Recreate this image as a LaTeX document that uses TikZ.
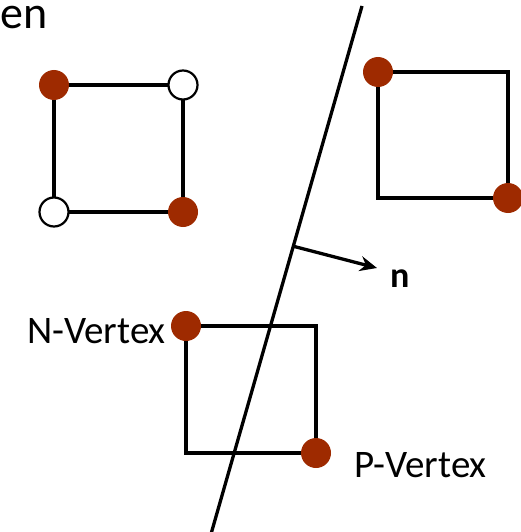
\documentclass[tikz,border=0pt]{standalone}
\usepackage{fontspec}
\setmainfont{Carlito}
\usetikzlibrary{arrows.meta,calc}
\definecolor{vred}{RGB}{158,42,0}
\tikzset{
  edge/.style={line width=3.3pt, line join=miter},
  hot/.style={circle, fill=vred, minimum size=30pt, inner sep=0pt},
  cold/.style={circle, draw=black, line width=2.2pt, fill=white, minimum size=29pt, inner sep=0pt},
  lbl/.style={font=\fontsize{39}{42}\selectfont, inner sep=0pt},
}
\begin{document}
\begin{tikzpicture}[x=1pt,y=-1pt]
  \useasboundingbox (0,0) rectangle (521,532);
  \clip (0,0) rectangle (521,532);

  % heading fragment
  \node[font=\fontsize{46}{48}\selectfont, inner sep=0pt, text height=23pt, text depth=0pt,
        anchor=base west] (head) at (0.5,29) {en};

  % corner points of the three boxes
  \coordinate (a1) at (54,85);   \coordinate (a2) at (183,85);
  \coordinate (a3) at (183,212); \coordinate (a4) at (54,212);
  \coordinate (b1) at (378,72);  \coordinate (b2) at (508,72);
  \coordinate (b3) at (508,198); \coordinate (b4) at (378,198);
  \coordinate (c1) at (186,326); \coordinate (c2) at (316,326);
  \coordinate (c3) at (316,453); \coordinate (c4) at (186,453);

  \draw[edge] (a1) -- (a2) -- (a3) -- (a4) -- cycle;
  \draw[edge] (b1) -- (b2) -- (b3) -- (b4) -- cycle;
  \draw[edge] (c1) -- (c2) -- (c3) -- (c4) -- cycle;

  % vertices
  \node[hot]  (va1) at (a1) {};
  \node[cold] (va2) at (a2) {};
  \node[hot]  (va3) at (a3) {};
  \node[cold] (va4) at (a4) {};
  \node[hot]  (vb1) at (b1) {};
  \node[hot]  (vb3) at (b3) {};
  \node[hot]  (vc1) at (c1) {};
  \node[hot]  (vc3) at (c3) {};

  % separating plane and its normal
  \coordinate (ptop) at (362,6);
  \coordinate (pbot) at (211,534);
  \draw[line width=3.3pt] (ptop) -- (pbot);
  \coordinate (foot) at ($(ptop)!0.455!(pbot)$);
  \coordinate (ntip) at (377,268);
  \draw[line width=3.3pt, -{Stealth[length=17pt,width=15pt]}] (foot) -- (ntip);
  \node[font=\fontsize{36}{40}\selectfont\bfseries, inner sep=0pt, anchor=base west] (nlab) at (390,287) {n};

  % labels
  \node[lbl, anchor=base east] (nv) at (166,343) {N-Vertex};
  \node[lbl, anchor=base west] (pv) at (354,477) {P-Vertex};
\end{tikzpicture}
\end{document}
